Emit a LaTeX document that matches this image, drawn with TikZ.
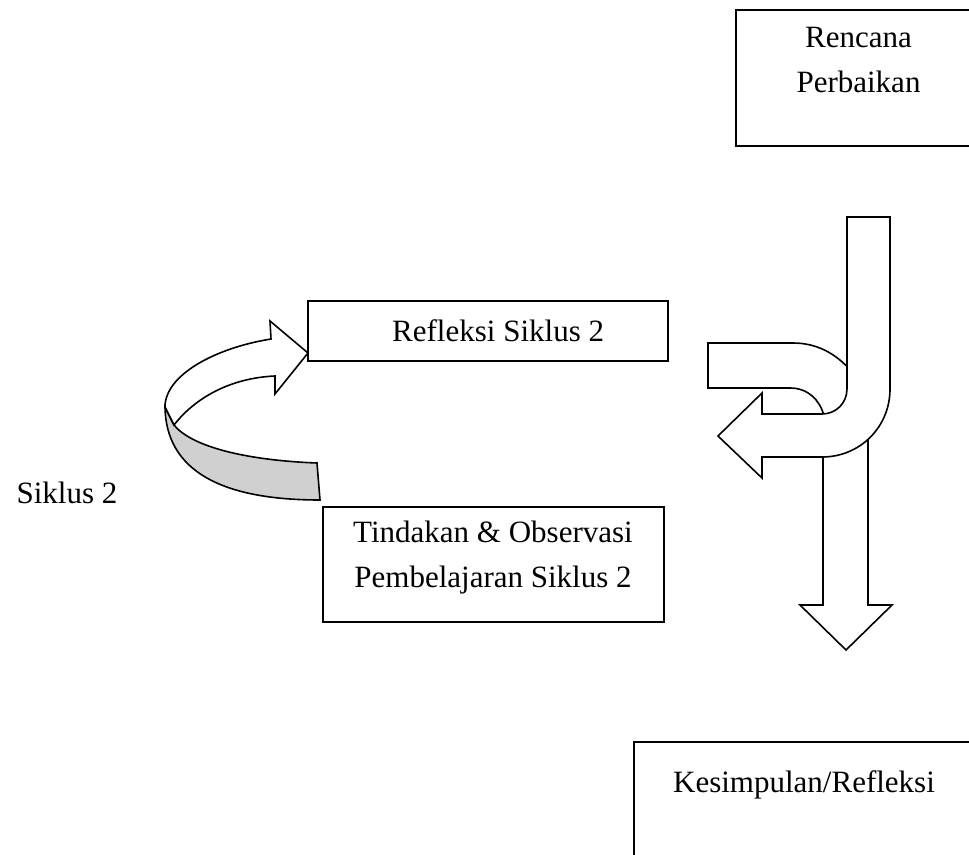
\documentclass[tikz,border=0pt]{standalone}
\usepackage{fontspec}
\setmainfont{Liberation Serif}
\usetikzlibrary{positioning}
\definecolor{ribbongray}{HTML}{D0D0D0}
\tikzset{
every node/.style={font=\fontsize{31}{45}\selectfont}, % text size of the whole sketch
box/.style={draw, line width=2pt, inner sep=0pt}, % the framed steps
txt/.style={align=center, inner sep=0pt}, % free text lines
blockarrow/.style={draw, fill=white, line width=1.6pt, line join=miter}, % the wide outlined arrows
}

\begin{document}
\begin{tikzpicture}[x=1pt, y=-1pt]
    \useasboundingbox (0,0) rectangle (969,854);
    % cycle arrow, grey underside first
    \draw[blockarrow, fill=ribbongray] (165,407) .. controls (166,470) and (220,500) .. (320,500)
        -- (317,463) .. controls (240,460) and (190,445) .. (174,425) -- cycle;
    \draw[blockarrow] (174,425) .. controls (195,398) and (230,378) .. (275,376)
        -- (275,394) -- (308,353) -- (270,321) -- (271,339)
        .. controls (215,348) and (165,375) .. (165,407) -- cycle;
    % steps
    \node[box, anchor=north west, minimum width=245, minimum height=136] (rencana) at (735,9) {};
    \node[txt, below=17.5pt of rencana.north] (rencanatxt) {Rencana\\Perbaikan};
    \node[box, minimum width=360, minimum height=60] (refleksi) at (487.5,330.5) {};
    \node[txt, right=85.5pt of refleksi.west] (refleksitxt) {Refleksi Siklus 2};
    \node[box, minimum width=341, minimum height=115] (tindakan) at (493,564.5) {};
    \node[txt, below=14.5pt of tindakan.north] (tindakantxt) {Tindakan \& Observasi\\Pembelajaran Siklus 2};
    \node[box, anchor=north west, minimum width=340, minimum height=200] (kesimpulan) at (633,741) {};
    \node[txt, below=29pt of kesimpulan.north] (kesimpulantxt) {Kesimpulan/Refleksi};
    \node[txt, anchor=base] (siklus) at (67,503) {Siklus 2};
    % down arrow, partly hidden by the bend
    \draw[blockarrow] (823,430) -- (823,605) -- (800,605) -- (846,650) -- (892,605) -- (868,605) -- (868,430) -- cycle;
    % band coming from the reflection box
    \draw[blockarrow] (708,343) -- (793,343) .. controls (815,343) and (835,352) .. (852,372)
        -- (852,425) -- (824,420) -- (824,416) .. controls (820,400) and (808,388) .. (790,388)
        -- (708,388) -- cycle;
    % bent arrow turning back to the left
    \draw[blockarrow] (847,217) -- (890,217) -- (890,389) .. controls (890,427) and (860,457) .. (822,457)
        -- (762,457) -- (762,478) -- (718,436) -- (762,393) -- (762,414) -- (822,414)
        .. controls (836,414) and (847,403) .. (847,389) -- cycle;
\end{tikzpicture}
\end{document}
